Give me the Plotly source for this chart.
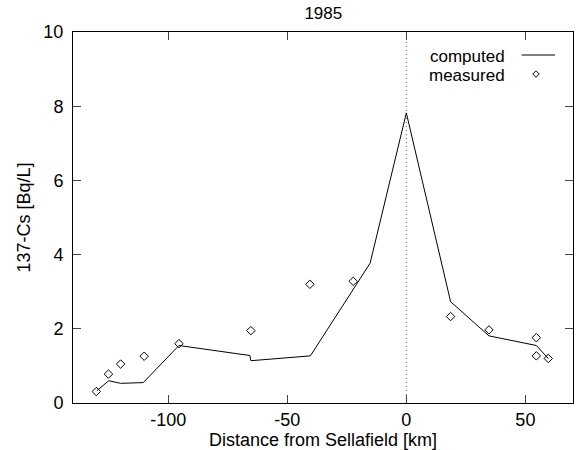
import plotly.graph_objects as go

# computed model curve
comp_x = [-130, -125, -120, -110.5, -95.5, -65.7, -65.3, -40.3, -15.2, 0, 18.6, 34.7, 54.6, 59.6]
comp_y = [0.33, 0.6, 0.53, 0.55, 1.55, 1.28, 1.14, 1.27, 3.77, 7.82, 2.73, 1.81, 1.55, 1.2]

# measured values
meas_x = [-130.2, -125.1, -120.0, -110.1, -95.5, -65.3, -40.5, -22.3, 18.6, 34.7, 54.6, 54.6, 59.6]
meas_y = [0.31, 0.78, 1.05, 1.26, 1.6, 1.95, 3.2, 3.28, 2.33, 1.97, 1.76, 1.27, 1.2]

x_ticks = [-100, -50, 0, 50]
x_tick_text = ["-100", "-50", "0", "50"]
y_ticks = [0, 2, 4, 6, 8, 10]
y_tick_text = ["0", "2", "4", "6", "8", "10"]

FONT = "Liberation Sans, Arial, Helvetica, sans-serif"

fig = go.Figure()
fig.add_trace(go.Scatter(x=comp_x, y=comp_y, mode="lines",
                         line=dict(color="black", width=1), name="computed",
                         showlegend=False))
fig.add_trace(go.Scatter(x=meas_x, y=meas_y, mode="markers",
                         marker=dict(symbol="diamond-open", size=6.5,
                                     color="black", line=dict(width=1)),
                         name="measured", showlegend=False))

# vertical dotted line at source
fig.add_shape(type="line", xref="x", yref="paper", x0=0, x1=0, y0=0, y1=1,
              line=dict(color="#666", width=1, dash="1px,3px"), layer="below")

# legend (text on the left, sample on the right)
fig.add_annotation(xref="paper", yref="paper", x=0.868, y=0.9353,
                   text="computed", showarrow=False, xanchor="right",
                   yanchor="middle", font=dict(family=FONT, size=17, color="black"))
fig.add_annotation(xref="paper", yref="paper", x=0.868, y=0.884,
                   text="measured", showarrow=False, xanchor="right",
                   yanchor="middle", font=dict(family=FONT, size=17, color="black"))
fig.add_shape(type="line", xref="paper", yref="paper", x0=0.8974, x1=0.964,
              y0=0.938, y1=0.938, line=dict(color="black", width=1))
fig.add_trace(go.Scatter(x=[0.926], y=[0.8868], xaxis="x2", yaxis="y2",
                         mode="markers", showlegend=False, hoverinfo="skip",
                         marker=dict(symbol="diamond-open", size=5, color="black",
                                     line=dict(width=1))))

fig.update_layout(
    width=582, height=450,
    margin=dict(l=73, r=9, t=32, b=47),
    paper_bgcolor="white", plot_bgcolor="white",
    font=dict(family=FONT, size=18, color="black"),
    title=dict(text="1985", x=0.5555, xanchor="center", y=0.971, yanchor="middle",
               font=dict(family=FONT, size=17, color="black")),
    xaxis=dict(range=[-140, 70], tickvals=x_ticks, ticktext=x_tick_text,
               ticks="inside", ticklen=8,
               showline=True, linecolor="black", linewidth=1, mirror="ticks",
               showgrid=False, zeroline=False,
               title=dict(text="Distance from Sellafield [km]", standoff=0,
                          font=dict(size=18)),
               tickfont=dict(size=18)),
    yaxis=dict(range=[0, 10], tickvals=y_ticks, ticktext=y_tick_text,
               ticks="inside", ticklen=8, ticklabelstandoff=5,
               showline=True, linecolor="black", linewidth=1, mirror="ticks",
               showgrid=False, zeroline=False,
               title=dict(text="137-Cs [Bq/L]", standoff=8, font=dict(size=18)),
               tickfont=dict(size=18)),
    xaxis2=dict(range=[0, 1], overlaying="x", visible=False),
    yaxis2=dict(range=[0, 1], overlaying="y", visible=False),
)

fig.write_html("out.html")
